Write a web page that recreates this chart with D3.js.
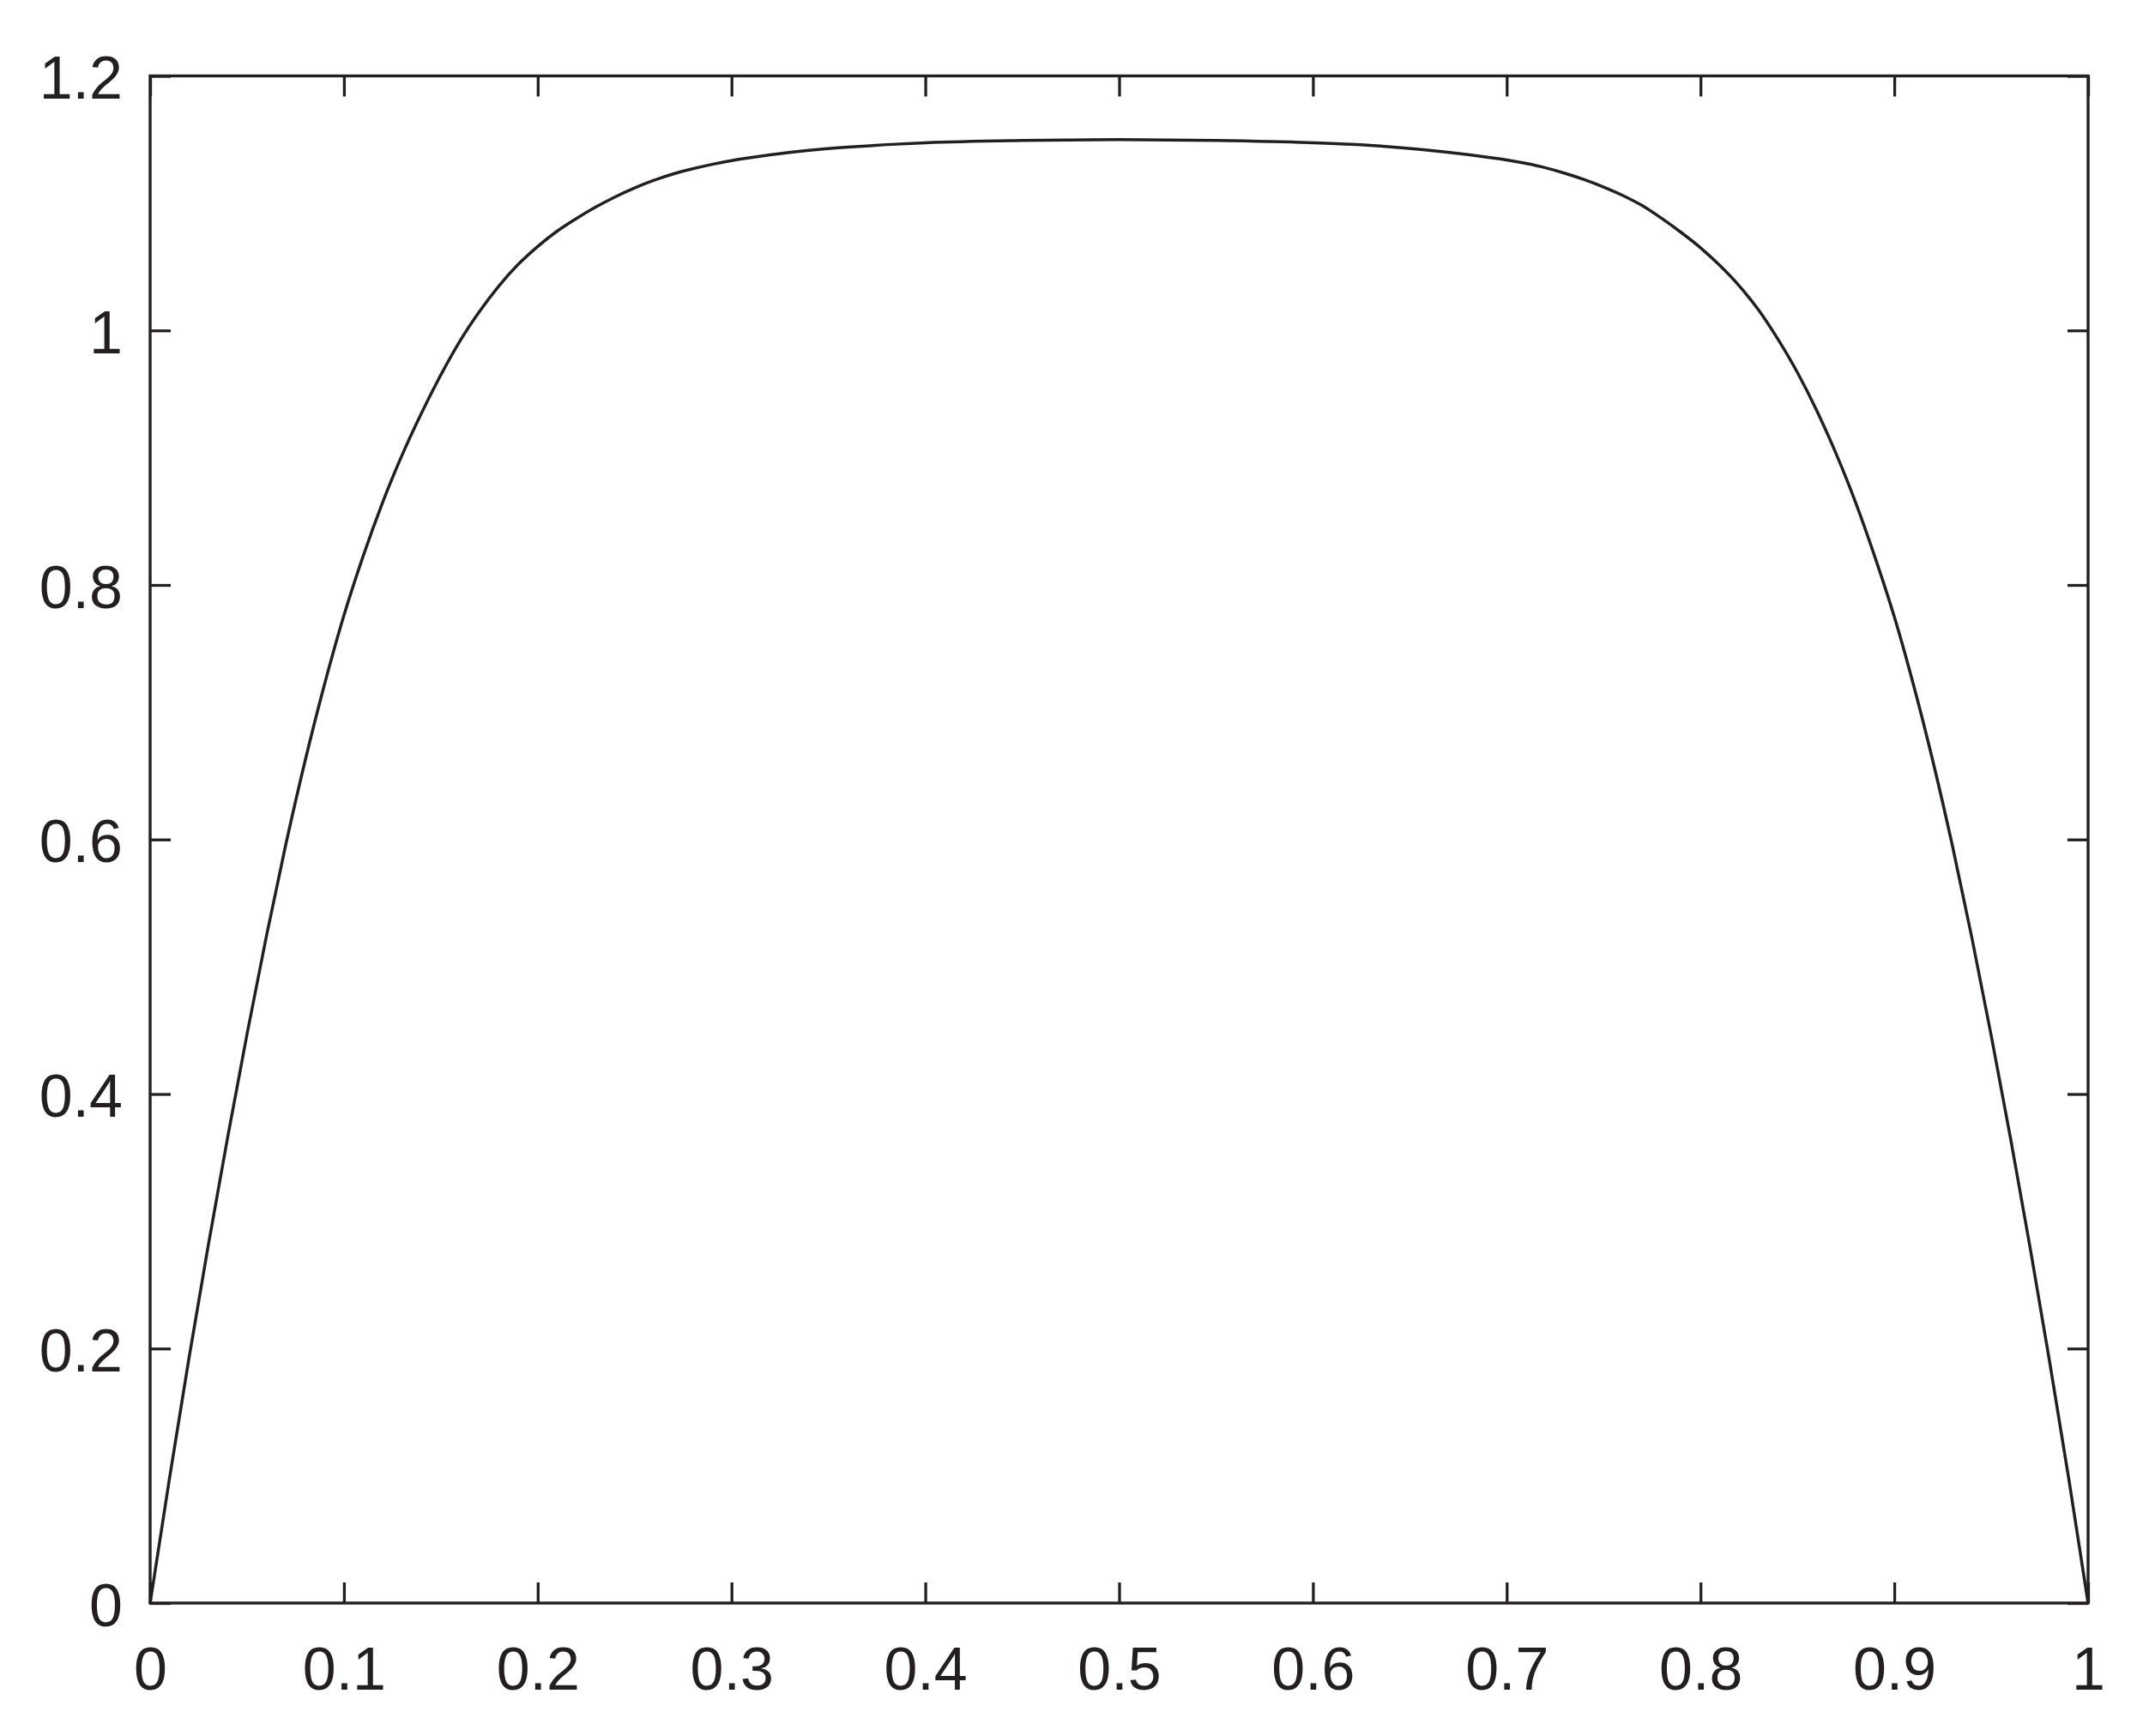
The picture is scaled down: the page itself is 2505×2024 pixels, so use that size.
<!DOCTYPE html>
<html>
<head>
<meta charset="utf-8">
<script src="https://cdn.jsdelivr.net/npm/d3@7"></script>
<style>
  html, body { margin: 0; padding: 0; background: #ffffff; }
  svg { display: block; }
</style>
</head>
<body>
<script>
// ---- data ----
const xValues = [0,0.01,0.02,0.03,0.04,0.05,0.06,0.07,0.08,0.09,0.10,0.11,0.12,0.13,0.14,0.15,0.16,0.17,0.18,0.19,0.20,0.21,0.22,0.23,0.24,0.25,0.26,0.27,0.28,0.29,0.30,0.32,0.34,0.36,0.38,0.40,0.45,0.50,0.55,0.60,0.62,0.64,0.66,0.68,0.70,0.71,0.72,0.73,0.74,0.75,0.76,0.77,0.78,0.79,0.80,0.81,0.82,0.83,0.84,0.85,0.86,0.87,0.88,0.89,0.90,0.91,0.92,0.93,0.94,0.95,0.96,0.97,0.98,0.99,1.00];
const yValues = [0,0.098,0.192,0.281,0.366,0.447,0.524,0.596,0.662,0.722,0.776,0.823,0.865,0.902,0.935,0.965,0.992,1.015,1.035,1.052,1.066,1.078,1.088,1.097,1.105,1.112,1.118,1.123,1.127,1.1305,1.1335,1.138,1.1415,1.144,1.146,1.1475,1.1493,1.150,1.1493,1.1475,1.1462,1.1442,1.1416,1.1382,1.134,1.1312,1.1278,1.1235,1.1185,1.1127,1.106,1.098,1.088,1.077,1.065,1.051,1.035,1.016,0.993,0.967,0.937,0.903,0.865,0.822,0.775,0.721,0.661,0.595,0.523,0.446,0.365,0.280,0.191,0.098,0];
const xTicks = [0,0.1,0.2,0.3,0.4,0.5,0.6,0.7,0.8,0.9,1];
const yTicks = [0,0.2,0.4,0.6,0.8,1,1.2];
const xTickLabels = ["0","0.1","0.2","0.3","0.4","0.5","0.6","0.7","0.8","0.9","1"];
const yTickLabels = ["0","0.2","0.4","0.6","0.8","1","1.2"];

// ---- layout ----
const W = 2505, H = 2024;
const mLeft = 175, mRight = 2434, mTop = 88.5, mBottom = 1869;
const ink = "#231f20";
const fontFamily = "'Liberation Sans', Arial, Helvetica, sans-serif";
const fontSize = 70;
const tickLen = 24;

const svg = d3.select("body").append("svg")
  .attr("width", W).attr("height", H)
  .attr("viewBox", `0 0 ${W} ${H}`);

svg.append("rect").attr("width", W).attr("height", H).attr("fill", "#ffffff");

const x = d3.scaleLinear().domain([0, 1]).range([mLeft, mRight]);
const y = d3.scaleLinear().domain([0, 1.2]).range([mBottom, mTop]);

// axes
const bottomAxis = svg.append("g").attr("transform", `translate(0,${mBottom})`)
  .call(d3.axisBottom(x).tickValues(xTicks).tickSizeInner(-tickLen).tickSizeOuter(0)
    .tickFormat((d, i) => xTickLabels[i]));
const topAxis = svg.append("g").attr("transform", `translate(0,${mTop})`)
  .call(d3.axisTop(x).tickValues(xTicks).tickSizeInner(-tickLen).tickSizeOuter(0).tickFormat(""));
const leftAxis = svg.append("g").attr("transform", `translate(${mLeft},0)`)
  .call(d3.axisLeft(y).tickValues(yTicks).tickSizeInner(-tickLen).tickSizeOuter(0)
    .tickFormat((d, i) => yTickLabels[i]));
const rightAxis = svg.append("g").attr("transform", `translate(${mRight},0)`)
  .call(d3.axisRight(y).tickValues(yTicks).tickSizeInner(-tickLen).tickSizeOuter(0).tickFormat(""));

[bottomAxis, topAxis, leftAxis, rightAxis].forEach(g => {
  g.select(".domain").remove();
  g.selectAll(".tick line").attr("stroke", ink).attr("stroke-width", 3.3);
  g.selectAll(".tick text")
    .attr("fill", ink)
    .style("font-family", fontFamily)
    .style("font-size", fontSize + "px");
});

bottomAxis.selectAll(".tick text")
  .attr("y", 101).attr("dy", null)
  .attr("text-anchor", "middle");
leftAxis.selectAll(".tick text")
  .attr("x", -32).attr("dy", null).attr("y", 26)
  .attr("text-anchor", "end");

// box
svg.append("rect")
  .attr("x", mLeft).attr("y", mTop)
  .attr("width", mRight - mLeft).attr("height", mBottom - mTop)
  .attr("fill", "none").attr("stroke", ink).attr("stroke-width", 3.4);

// curve
const pts = xValues.map((v, i) => [v, yValues[i]]);
const line = d3.line()
  .x(d => x(d[0]))
  .y(d => y(d[1]))
  .curve(d3.curveMonotoneX);

svg.append("path")
  .datum(pts)
  .attr("d", line)
  .attr("fill", "none")
  .attr("stroke", ink)
  .attr("stroke-width", 3.5)
  .attr("stroke-linejoin", "round");
</script>
</body>
</html>
